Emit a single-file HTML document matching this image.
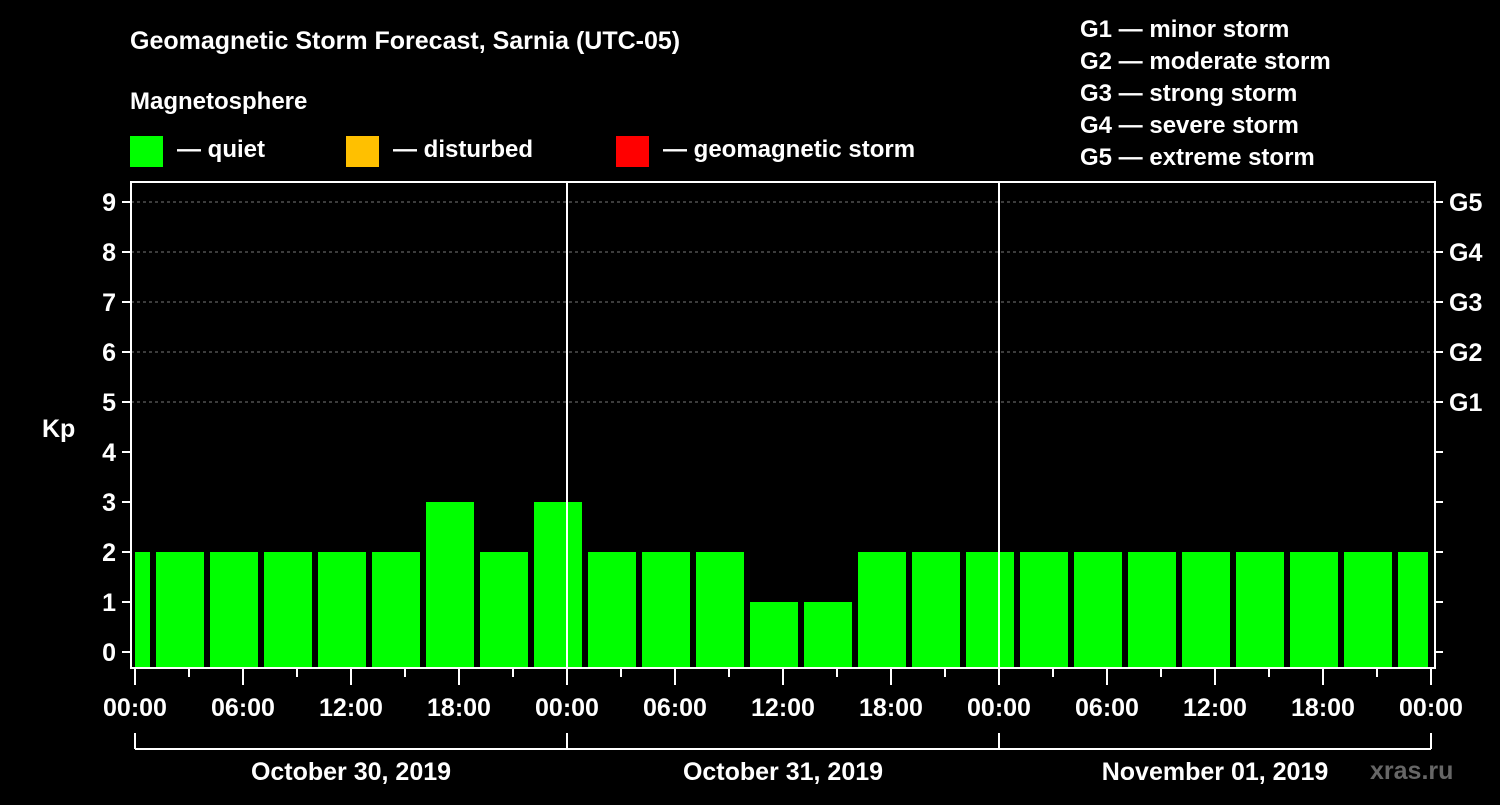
<!DOCTYPE html>
<html><head><meta charset="utf-8"><style>
body{margin:0;background:#000;width:1500px;height:800px;overflow:hidden}
svg text{font-family:"Liberation Sans",sans-serif;font-weight:bold;fill:#fff}
</style></head><body>
<svg id="c" width="1500" height="800" xmlns="http://www.w3.org/2000/svg">
<text x="130" y="49" font-size="25">Geomagnetic Storm Forecast, Sarnia (UTC-05)</text>
<text x="130" y="109" font-size="24">Magnetosphere</text>
<g><rect x="130" y="136" width="33" height="31" fill="#00ff00"/><text x="177" y="157" font-size="24">— quiet</text></g>
<g><rect x="346" y="136" width="33" height="31" fill="#ffc000"/><text x="393" y="157" font-size="24">— disturbed</text></g>
<g><rect x="616" y="136" width="33" height="31" fill="#ff0000"/><text x="663" y="157" font-size="24">— geomagnetic storm</text></g>
<g font-size="24">
<text x="1080" y="37">G1 — minor storm</text><text x="1080" y="69">G2 — moderate storm</text><text x="1080" y="101">G3 — strong storm</text><text x="1080" y="133">G4 — severe storm</text><text x="1080" y="165">G5 — extreme storm</text></g>
<text x="42" y="437" font-size="25">Kp</text>
<text x="1370" y="779" font-size="25" fill="#666" style="fill:#666">xras.ru</text>
<g id="grid"></g><g id="bars"></g><g id="axes"></g>
</svg>
<script>
const kpValues=[2,2,2,2,2,2,3,2,3,2,2,2,1,1,2,2,2,2,2,2,2,2,2,2,2];
const yTicks=[0,1,2,3,4,5,6,7,8,9];
const gLabels=["G1","G2","G3","G4","G5"];
const hourLabels=["00:00","06:00","12:00","18:00"];
const dayLabels=["October 30, 2019","October 31, 2019","November 01, 2019"];
const NS="http://www.w3.org/2000/svg";
const L=131,R=1435,T=182,B=668,X0=135,PXH=18;
const y=k=>652-50*k, x=h=>X0+h*PXH;
function el(t,a,p){const e=document.createElementNS(NS,t);for(const k in a)e.setAttribute(k,a[k]);document.getElementById(p).appendChild(e);return e;}
// gridlines
for(let k=5;k<=9;k++){const e=el('line',{x1:L,x2:R,y1:y(k),y2:y(k),stroke:'#777','stroke-dasharray':'3,3'},'grid');

}
// bars: boundaries at 1h, 4h, ...
const days=dayLabels.length,totalH=days*24;
kpValues.forEach((v,i)=>{let h0=i===0?0:1+(i-1)*3, h1=Math.min(1+i*3,totalH);
let x0=i===0?x(0):x(h0)+3, x1=i===kpValues.length-1?x(h1)-3:x(h1)-3;
const r=el('rect',{x:x0,y:y(v),width:x1-x0,height:B-y(v),fill:v>=5?'#ff0000':v>=4?'#ffc000':'#00ff00'},'bars');

});
// day separators
for(let d=1;d<days;d++){const e=el('line',{x1:x(d*24),x2:x(d*24),y1:T,y2:B,stroke:'#fff','stroke-width':2},'axes');

}
// frame
const f=el('rect',{x:L,y:T,width:R-L,height:B-T,fill:'none',stroke:'#fff','stroke-width':2},'axes');


yTicks.forEach(k=>{el('line',{x1:122,x2:L,y1:y(k),y2:y(k),stroke:'#fff','stroke-width':2},'axes');
el('line',{x1:R,x2:1443,y1:y(k),y2:y(k),stroke:'#fff','stroke-width':2},'axes');
const t=el('text',{x:116,y:y(k)+9,'font-size':25,'text-anchor':'end'},'axes');t.textContent=k;

});
gLabels.forEach((g,i)=>{const t=el('text',{x:1449,y:y(5+i)+9,'font-size':25},'axes');t.textContent=g;

});
for(let h=0;h<=totalH;h+=3){const major=h%6===0;
el('line',{x1:x(h),x2:x(h),y1:B,y2:major?685:677,stroke:'#fff','stroke-width':2},'axes');
if(h%6===0&&(h%24!==18||true)&&h%6===0&&[0,6,12,18].includes(h%24)){const t=el('text',{x:x(h),y:716,'font-size':25,'text-anchor':'middle'},'axes');t.textContent=hourLabels[(h%24)/6];

}}
el('line',{x1:x(0),x2:x(totalH),y1:749,y2:749,stroke:'#fff','stroke-width':2},'axes');
for(let d=0;d<=days;d++)el('line',{x1:x(d*24),x2:x(d*24),y1:733,y2:749,stroke:'#fff','stroke-width':2},'axes');
dayLabels.forEach((s,d)=>{const t=el('text',{x:x(d*24+12),y:780,'font-size':25,'text-anchor':'middle'},'axes');t.textContent=s;

});
</script>
</body></html>
